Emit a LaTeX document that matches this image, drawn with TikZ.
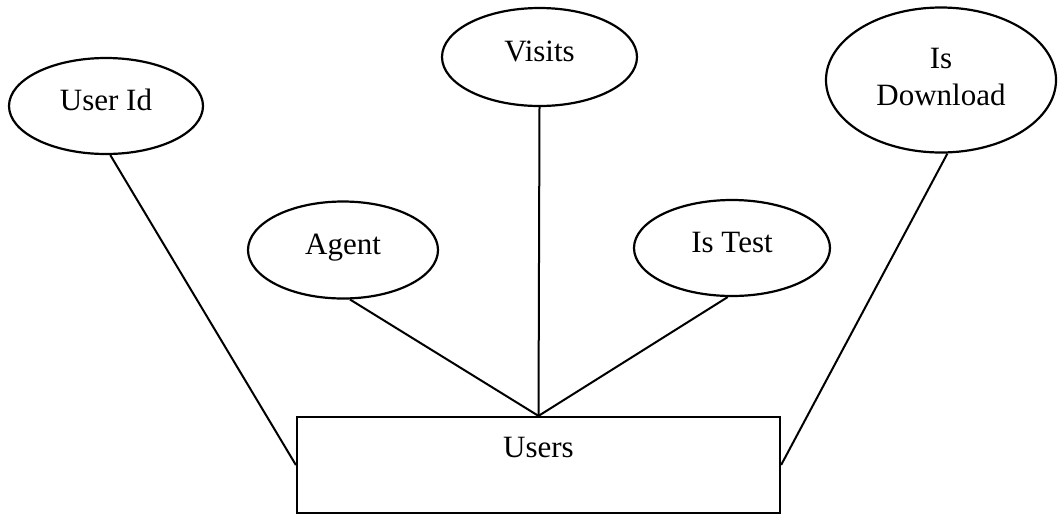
\documentclass[tikz,border=0pt]{standalone}
\usepackage{fontspec}
\setmainfont{Liberation Serif}
\usetikzlibrary{shapes.geometric}
\begin{document}
\begin{tikzpicture}[x=1pt,y=-1pt,
  every node/.style={font=\fontsize{31}{37}\selectfont, line width=2.2pt, inner sep=0pt},
  attr/.style={draw, ellipse, text height=20pt, text depth=12pt},
  entity/.style={draw, rectangle, minimum width=483pt, minimum height=96pt,
                 text height=20pt, text depth=36pt},
  link/.style={line width=2pt}]
\useasboundingbox (0,0) rectangle (1058,515);

% entity
\node[entity] (users) at (538.5,465) {Users};

% attributes
\node[attr, minimum width=194pt, minimum height=96pt] (uid) at (106,106) {User Id};
\node[attr, minimum width=195pt, minimum height=98pt] (visits) at (539.5,57) {Visits};
\node[attr, minimum width=190pt, minimum height=97pt] (agent) at (343,250) {Agent};
\node[attr, minimum width=196pt, minimum height=96pt] (istest) at (732,248) {Is Test};
\node[attr, minimum width=230pt, minimum height=145pt, text depth=9.3pt]
      (isdl) at (941,80) {\begin{tabular}{@{}c@{}}Is\\Download\end{tabular}};

% connectors
\draw[link] (uid.275) -- (users.west);
\draw[link] (agent.278) -- (users.north);
\draw[link] (visits.south) -- (users.north);
\draw[link] (istest.265) -- (users.north);
\draw[link] (isdl.275) -- (users.east);
\end{tikzpicture}
\end{document}
